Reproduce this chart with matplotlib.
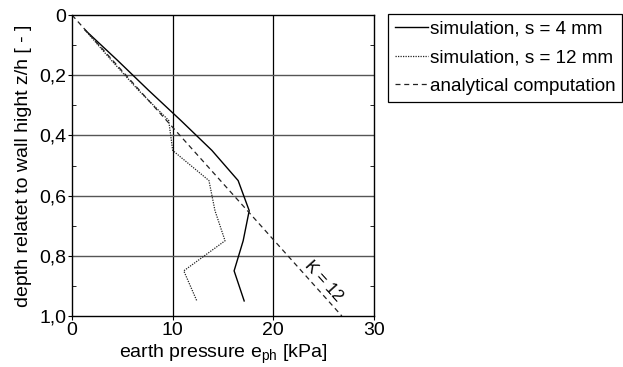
import matplotlib
matplotlib.use('Agg')
import matplotlib.pyplot as plt
from matplotlib.ticker import FixedLocator

plt.rcParams['font.family'] = ['Liberation Sans', 'DejaVu Sans']

# depth z/h of the measurement points
depth = [0.05, 0.15, 0.25, 0.35, 0.45, 0.55, 0.65, 0.75, 0.85, 0.95]
# earth pressure e_ph [kPa]
sim_4mm = [1.3, 4.5, 7.6, 10.8, 13.9, 16.5, 17.6, 17.0, 16.1, 17.1]
sim_12mm = [1.3, 3.9, 6.6, 9.6, 10.0, 13.6, 14.2, 15.2, 11.1, 12.4]
# analytical line (K = 12)
ana_depth = [0.0, 1.0]
ana_pressure = [0.0, 26.8]

y_ticks = [0, 0.2, 0.4, 0.6, 0.8, 1.0]
y_labels = ['0', '0,2', '0,4', '0,6', '0,8', '1,0']
x_ticks = [0, 10, 20, 30]

fig = plt.figure(figsize=(6.23, 3.67), dpi=100)
ax = fig.add_axes([0.1156, 0.139, 0.4848, 0.820])

ax.plot(sim_4mm, depth, color='black', linewidth=1.0, label='simulation, s = 4 mm')
ax.plot(sim_12mm, depth, color='#222222', linewidth=0.9, linestyle=(0, (1, 1)),
        label='simulation, s = 12 mm')
ax.plot(ana_pressure, ana_depth, color='#222222', linewidth=0.9,
        linestyle=(0, (4, 3)), label='analytical computation')

ax.text(25.0, 0.885, 'K = 12', rotation=-48, rotation_mode='anchor',
        ha='center', va='center', fontsize=12)

ax.set_xlim(0, 30)
ax.set_ylim(1.0, 0)
ax.set_xticks(x_ticks)
ax.set_yticks(y_ticks)
ax.set_yticklabels(y_labels)
ax.yaxis.set_minor_locator(FixedLocator([0.1, 0.3, 0.5, 0.7, 0.9]))
ax.tick_params(axis='both', which='major', direction='out', length=3,
               labelsize=14, pad=1)
ax.tick_params(axis='y', which='minor', direction='in', length=3,
               left=True, right=True)

for x in x_ticks[1:-1]:
    ax.axvline(x, color='black', linewidth=0.9, zorder=0)
for y in y_ticks[1:-1]:
    ax.axhline(y, color='#555555', linewidth=1.0, zorder=0)

for sp in ax.spines.values():
    sp.set_linewidth(1.0)

ax.set_xlabel('earth pressure e$_{\\mathregular{ph}}$ [kPa]', fontsize=14, labelpad=3)
ax.set_ylabel('depth relatet to wall hight z/h [ - ]', fontsize=14, labelpad=5)

leg = fig.legend(loc='upper left', bbox_to_anchor=(388 / 623, 1 - 14 / 367),
                 fontsize=13.6, handlelength=1.75, handletextpad=0.1,
                 labelspacing=0.6, borderpad=0.35, borderaxespad=0,
                 fancybox=False, edgecolor='black', framealpha=1)
leg.get_frame().set_linewidth(0.9)

fig.savefig('out.png', dpi=100)
